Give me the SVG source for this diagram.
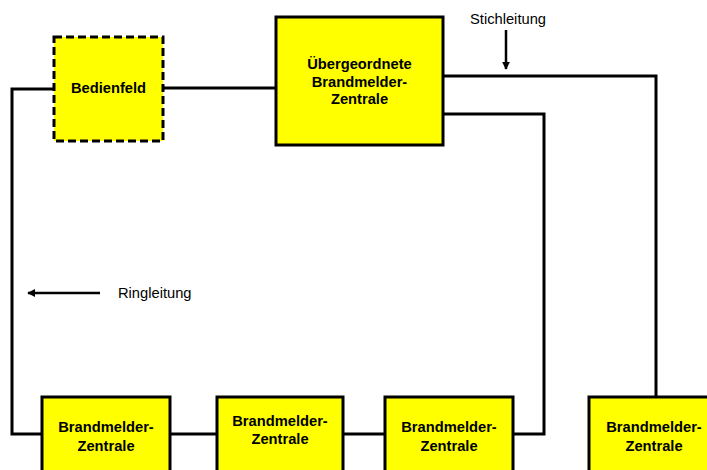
<svg xmlns="http://www.w3.org/2000/svg" width="707" height="470" viewBox="0 0 707 470">
  <style>
    .box { fill: #ffff00; stroke: #000; stroke-width: 3; }
    .dashed { stroke-dasharray: 8 4; }
    .lbl { font-family: "Liberation Sans", Arial, sans-serif; font-size: 14.7px; font-weight: bold; text-anchor: middle; fill: #000; }
    .note { font-family: "Liberation Sans", Arial, sans-serif; font-size: 14.7px; fill: #000; }
    .wire { fill: none; stroke: #000; stroke-width: 3; }
    .pointer { fill: none; stroke: #000; stroke-width: 2.5; }
  </style>
  <defs>
    <marker id="head" viewBox="0 0 10 10" refX="9" refY="5" markerWidth="3.2" markerHeight="3.2" orient="auto" markerUnits="strokeWidth">
      <path d="M0,0 L10,5 L0,10 z" fill="#000"/>
    </marker>
  </defs>
  <rect width="707" height="470" fill="#fff"/>

  <!-- wiring -->
  <g id="connectors">
    <!-- operator panel to master panel -->
    <path class="wire" d="M163,88 H276"/>
    <!-- ring line around the left side -->
    <path class="wire" d="M54,89 H12 V434 H42"/>
    <path class="wire" d="M170,434 H217"/>
    <path class="wire" d="M343,434 H385"/>
    <path class="wire" d="M513,434 H544 V114 H443"/>
    <!-- spur line to the right -->
    <path class="wire" d="M443,76 H656 V397"/>
    <!-- annotation pointers -->
    <path class="pointer" d="M506,30 V69" marker-end="url(#head)"/>
    <path class="pointer" d="M100,293 H28" marker-end="url(#head)"/>
  </g>

  <g id="bedienfeld">
    <rect class="box dashed" x="54" y="37" width="109" height="104"/>
    <text class="lbl" x="108.5" y="93">Bedienfeld</text>
  </g>

  <g id="zentrale-master">
    <rect class="box" x="276" y="17" width="167" height="128"/>
    <text class="lbl" x="359.5" y="69">Übergeordnete</text>
    <text class="lbl" x="359.5" y="86.5">Brandmelder-</text>
    <text class="lbl" x="359.5" y="104">Zentrale</text>
  </g>

  <g id="zentrale-1">
    <rect class="box" x="42" y="397" width="128" height="80"/>
    <text class="lbl" x="106" y="432">Brandmelder-</text>
    <text class="lbl" x="106" y="451">Zentrale</text>
  </g>

  <g id="zentrale-2">
    <rect class="box" x="217" y="397" width="126" height="80"/>
    <text class="lbl" x="280" y="426">Brandmelder-</text>
    <text class="lbl" x="280" y="444">Zentrale</text>
  </g>

  <g id="zentrale-3">
    <rect class="box" x="385" y="397" width="128" height="80"/>
    <text class="lbl" x="449" y="432">Brandmelder-</text>
    <text class="lbl" x="449" y="451">Zentrale</text>
  </g>

  <g id="zentrale-4">
    <rect class="box" x="589" y="397" width="130" height="80"/>
    <text class="lbl" x="654" y="432">Brandmelder-</text>
    <text class="lbl" x="654" y="451">Zentrale</text>
  </g>

  <g id="labels">
    <text class="note" x="508" y="24" text-anchor="middle">Stichleitung</text>
    <text class="note" x="118" y="298">Ringleitung</text>
  </g>
</svg>
